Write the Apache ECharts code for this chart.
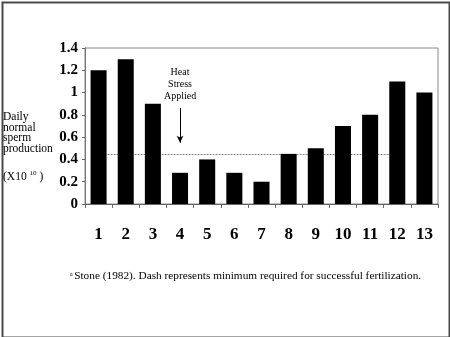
<!DOCTYPE html>
<html>
<head>
<meta charset="utf-8">
<script src="https://cdn.jsdelivr.net/npm/echarts@6/dist/echarts.min.js"></script>
<style>
html,body{margin:0;padding:0;background:#fff;}
#chart{width:450px;height:337px;position:absolute;left:0;top:0;}
</style>
</head>
<body>
<div id="chart"></div>
<script>
const categories = ['1','2','3','4','5','6','7','8','9','10','11','12','13'];
const production = [1.2, 1.3, 0.9, 0.28, 0.4, 0.28, 0.2, 0.45, 0.5, 0.7, 0.8, 1.1, 1.0];
const yTicks = [0, 0.2, 0.4, 0.6, 0.8, 1, 1.2, 1.4];
const minimumRequired = 0.45;
const dashFrom = '1', dashTo = '12';
const heatCategory = '4';
const arrowFrom = 0.86, arrowTo = 0.55, heatLabelAt = 1.07;
const yTitle = ['Daily', 'normal', 'sperm', 'production'];
const footnote = 'Stone (1982). Dash represents minimum required for successful fertilization.';

const serif = "'Liberation Serif', 'Times New Roman', serif";
const chart = echarts.init(document.getElementById('chart'), null, {renderer: 'canvas'});
chart.setOption({
  animation: false,
  backgroundColor: '#fff',
  grid: {left: 85, right: 12, top: 48, bottom: 133, show: true, borderColor: '#888', borderWidth: 1},
  xAxis: {
    type: 'category', data: categories,
    axisLine: {lineStyle: {color: '#666', width: 1}},
    axisTick: {show: true, inside: false, length: 4, lineStyle: {color: '#666'}},
    axisLabel: {margin: 22, fontFamily: serif, fontWeight: 'bold', fontSize: 17, color: '#000'}
  },
  yAxis: {
    type: 'value', min: yTicks[0], max: yTicks[yTicks.length - 1], interval: 0.2,
    splitLine: {show: false},
    axisLine: {show: true, lineStyle: {color: '#777'}},
    axisTick: {show: true, length: 3, lineStyle: {color: '#666'}},
    axisLabel: {margin: 7, fontFamily: serif, fontWeight: 'bold', fontSize: 15, color: '#000',
      formatter: v => String(Math.round(v * 10) / 10)}
  },
  series: [
    {
      type: 'line', z: 1, data: [], silent: true,
      markLine: {
        z: 1, silent: true, symbol: ['none', 'none'],
        lineStyle: {color: '#888', type: [2, 1], width: 1},
        label: {show: false},
        data: [[{coord: [dashFrom, minimumRequired]}, {coord: [dashTo, minimumRequired]}]]
      }
    },
    {
      type: 'bar', z: 2, data: production, barWidth: '59%',
      itemStyle: {color: '#000'},
      markLine: {
        z: 5, silent: true, symbol: ['none', 'arrow'], symbolSize: [5, 7],
        lineStyle: {color: '#000', type: 'solid', width: 1},
        label: {show: false},
        data: [[{coord: [heatCategory, arrowFrom]}, {coord: [heatCategory, arrowTo]}]]
      },
      markPoint: {
        silent: true, symbol: 'circle', symbolSize: 2,
        itemStyle: {color: 'rgba(0,0,0,0)'},
        label: {show: true, position: 'inside', formatter: 'Heat\nStress\nApplied',
          fontFamily: serif, fontSize: 10, lineHeight: 12, color: '#000', align: 'center'},
        data: [{coord: [heatCategory, heatLabelAt]}]
      }
    }
  ],
  graphic: [
    {type: 'rect', left: 0, top: 0, shape: {width: 447, height: 335}, z: 100,
      style: {fill: 'none', stroke: '#4a4a4a', lineWidth: 2}},
    {type: 'text', left: 3, top: 111, z: 100,
      style: {text: yTitle.join('\n'), font: "11.5px " + serif, lineHeight: 10.5, fill: '#000'}},
    {type: 'text', left: 3, top: 170, z: 100,
      style: {text: '{a|(X10 }{s|10}{a| )}', fill: '#000',
        rich: {a: {fontFamily: serif, fontSize: 11.5}, s: {fontFamily: serif, fontSize: 7, verticalAlign: 'bottom', padding: [0,0,6,0]}}}},
    {type: 'text', left: 70, top: 271, z: 100,
      style: {text: '{s|a }{a|' + footnote + '}', fill: '#000',
        rich: {a: {fontFamily: serif, fontSize: 11.3}, s: {fontFamily: serif, fontSize: 6, padding: [0,0,5,0]}}}}
  ]
});
</script>
</body>
</html>
